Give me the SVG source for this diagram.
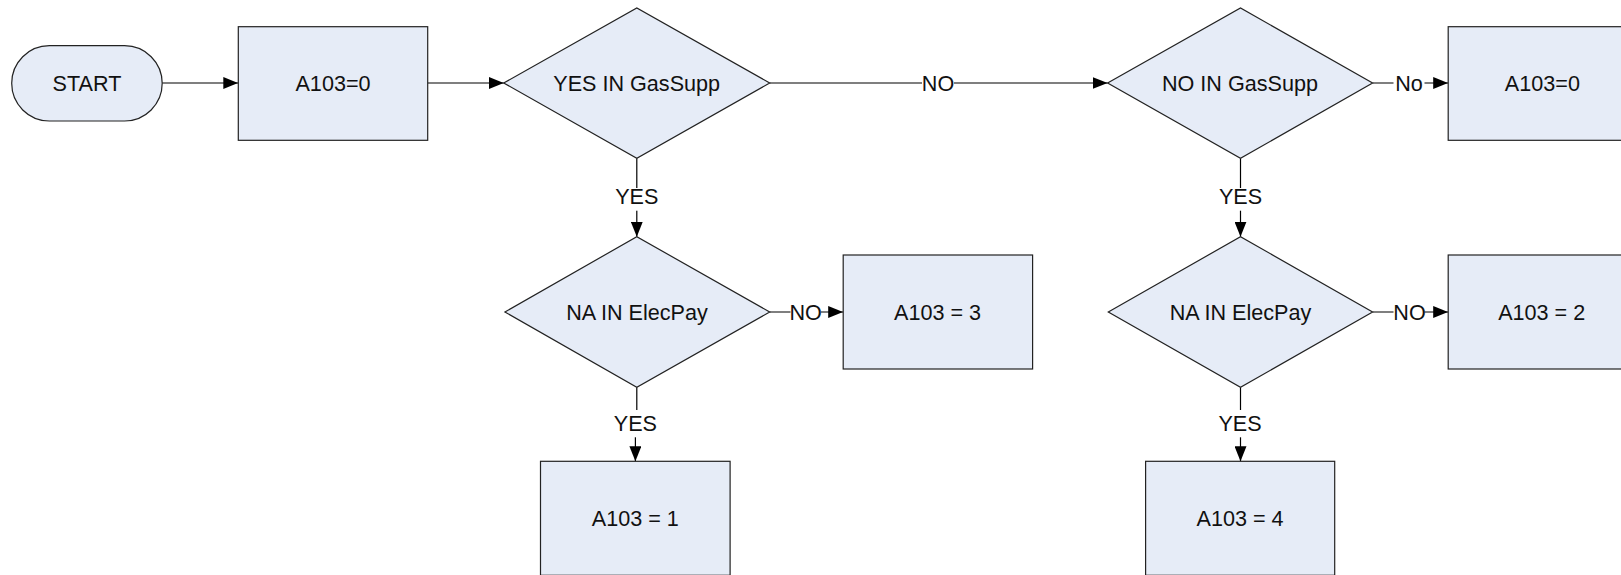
<svg xmlns="http://www.w3.org/2000/svg" width="1621" height="575" viewBox="0 0 1621 575">
<style>
.shape{fill:#E6ECF7;stroke:#222;stroke-width:1.2}
.t{font-family:"Liberation Sans",Arial,sans-serif;font-size:21.6px;fill:#111;text-anchor:middle}
.c{fill:none;stroke:#000;stroke-width:1.2}
.lb{fill:#fff}
</style>
<defs>
<marker id="ah" viewBox="0 0 15 12" refX="15" refY="6" markerWidth="15" markerHeight="12" markerUnits="userSpaceOnUse" orient="auto">
<path d="M0,0 L15,6 L0,12 Z" fill="#000"/>
</marker>
</defs>
<rect width="1621" height="575" fill="#fff"/>
<g id="connectors">
<line class="c" x1="162.2" y1="83" x2="238.3" y2="83" marker-end="url(#ah)"/>
<line class="c" x1="427.7" y1="83" x2="503.7" y2="83" marker-end="url(#ah)"/>
<line class="c" x1="769.7" y1="83" x2="1107.6" y2="83" marker-end="url(#ah)"/>
<line class="c" x1="1372.6" y1="83" x2="1448.2" y2="83" marker-end="url(#ah)"/>
<line class="c" x1="636.8" y1="158.3" x2="636.8" y2="236.7" marker-end="url(#ah)"/>
<line class="c" x1="1240.5" y1="158.3" x2="1240.5" y2="236.7" marker-end="url(#ah)"/>
<line class="c" x1="769.7" y1="312" x2="843.2" y2="312" marker-end="url(#ah)"/>
<line class="c" x1="1372.6" y1="312" x2="1448.2" y2="312" marker-end="url(#ah)"/>
<polyline class="c" points="636.8,387.3 636.8,420 635.4,425 635.4,461.3" marker-end="url(#ah)"/>
<line class="c" x1="1240.5" y1="387.3" x2="1240.5" y2="461.3" marker-end="url(#ah)"/>
<rect class="lb" x="922" y="73" width="32" height="20"/>
<text class="t" x="938" y="90.5">NO</text>
<rect class="lb" x="1393.5" y="73" width="31" height="20"/>
<text class="t" x="1409" y="90.5">No</text>
<rect class="lb" x="614.3" y="188" width="45" height="22.7"/>
<text class="t" x="636.8" y="204">YES</text>
<rect class="lb" x="1218" y="188" width="45" height="22.7"/>
<text class="t" x="1240.5" y="204">YES</text>
<rect class="lb" x="790.5" y="302" width="30.5" height="20"/>
<text class="t" x="805.7" y="319.5">NO</text>
<rect class="lb" x="1393.5" y="302" width="31" height="20"/>
<text class="t" x="1409.5" y="319.5">NO</text>
<rect class="lb" x="612.9" y="410" width="45" height="27.3"/>
<text class="t" x="635.4" y="430.7">YES</text>
<rect class="lb" x="1218" y="410" width="45" height="27.3"/>
<text class="t" x="1240" y="430.7">YES</text>
</g>
<g id="start">
<rect class="shape" x="11.7" y="45.7" width="150.5" height="75.3" rx="37.65" ry="37.65"/>
<text class="t" x="87" y="90.5">START</text>
</g>
<g id="init">
<rect class="shape" x="238.3" y="26.7" width="189.4" height="113.6"/>
<text class="t" x="333" y="90.5">A103=0</text>
</g>
<g id="yesGas">
<polygon class="shape" points="503.7,83 636.8,8 769.7,83 636.8,158.3"/>
<text class="t" x="636.7" y="90.5">YES IN GasSupp</text>
</g>
<g id="noGas">
<polygon class="shape" points="1107.6,83 1240.5,8 1372.6,83 1240.5,158.3"/>
<text class="t" x="1240" y="90.5">NO IN GasSupp</text>
</g>
<g id="zeroRight">
<rect class="shape" x="1448.2" y="26.7" width="189.4" height="113.6"/>
<text class="t" x="1542.4" y="90.5">A103=0</text>
</g>
<g id="naElec1">
<polygon class="shape" points="504.9,312 636.8,236.7 769.7,312 636.8,387.3"/>
<text class="t" x="637" y="319.5">NA IN ElecPay</text>
</g>
<g id="three">
<rect class="shape" x="843.2" y="255" width="189.4" height="114"/>
<text class="t" x="937.6" y="319.5">A103 = 3</text>
</g>
<g id="one">
<rect class="shape" x="540.5" y="461.3" width="189.6" height="114"/>
<text class="t" x="635.3" y="525.5">A103 = 1</text>
</g>
<g id="naElec2">
<polygon class="shape" points="1108.3,312 1240.5,236.7 1372.6,312 1240.5,387.3"/>
<text class="t" x="1240.5" y="319.5">NA IN ElecPay</text>
</g>
<g id="two">
<rect class="shape" x="1448.2" y="255" width="189.4" height="114"/>
<text class="t" x="1541.7" y="319.5">A103 = 2</text>
</g>
<g id="four">
<rect class="shape" x="1145.6" y="461.3" width="189.1" height="114"/>
<text class="t" x="1240.1" y="525.5">A103 = 4</text>
</g>
</svg>
